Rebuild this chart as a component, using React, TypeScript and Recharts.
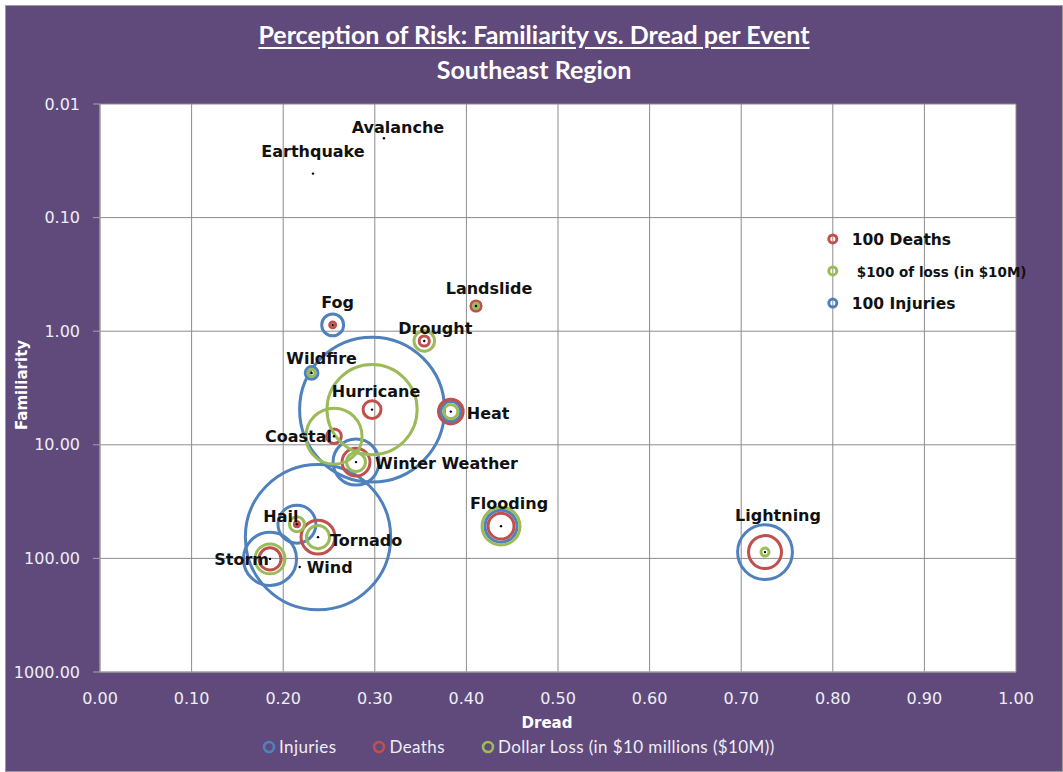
import React from 'react';
import { ScatterChart, Scatter, XAxis, YAxis, ZAxis, CartesianGrid } from 'recharts';

// Events and their position on the dread / familiarity plane
const events = ['Avalanche', 'Earthquake', 'Landslide', 'Fog', 'Drought', 'Wildfire', 'Hurricane', 'Heat', 'Coastal', 'Winter Weather', 'Flooding', 'Lightning', 'Hail', 'Tornado', 'Storm', 'Wind'];
const dread = [0.310, 0.2325, 0.4105, 0.254, 0.354, 0.231, 0.297, 0.383, 0.2555, 0.2795, 0.4378, 0.726, 0.215, 0.238, 0.1856, 0.218];
const familiarity = [0.020, 0.041, 0.60, 0.88, 1.22, 2.33, 4.9, 5.1, 8.4, 14.2, 52, 88, 50, 65, 101, 119];

// Bubble values (area proportional to value)
const injuries = [0, 0, 0, 750, 0, 250, 32800, 620, 0, 3300, 1600, 4700, 2250, 33000, 4400, 0];
const deaths = [0, 0, 160, 55, 160, 0, 500, 950, 330, 1220, 1050, 1700, 40, 1800, 760, 0];
const dollarLoss = [0, 0, 40, 0, 660, 80, 12700, 310, 4900, 560, 2250, 100, 350, 830, 1400, 0];

// In-plot key bubbles
const keyLabels = ['100 Deaths', '$100 of loss (in $10M)', '100 Injuries'];
const keyDread = [0.8, 0.8, 0.8];
const keyFamiliarity = [0.154, 0.295, 0.565];
const keyValue = 100;

const xTicks = [0, 0.1, 0.2, 0.3, 0.4, 0.5, 0.6, 0.7, 0.8, 0.9, 1.0];
const yTicks = [0.01, 0.1, 1, 10, 100, 1000];

const BLUE = '#4F81BD';
const RED = '#C0504D';
const GREEN = '#9BBB59';
const PURPLE = '#604A7B';
const GRID = '#8C8C8C';
const LIGHT = '#EEEEF6';

const labelPos: Record<string, { dx: number; dy: number; anchor: 'start' | 'middle' | 'end' }> = {
  Avalanche: { dx: 14, dy: -11, anchor: 'middle' },
  Earthquake: { dx: 0, dy: -22, anchor: 'middle' },
  Landslide: { dx: 13, dy: -17, anchor: 'middle' },
  Fog: { dx: 5, dy: -22, anchor: 'middle' },
  Drought: { dx: 11, dy: -13, anchor: 'middle' },
  Wildfire: { dx: 10, dy: -14, anchor: 'middle' },
  Hurricane: { dx: 4, dy: -18, anchor: 'middle' },
  Heat: { dx: 16, dy: 2, anchor: 'start' },
  Coastal: { dx: -2, dy: 0, anchor: 'end' },
  'Winter Weather': { dx: 19, dy: 1, anchor: 'start' },
  Flooding: { dx: 8, dy: -23, anchor: 'middle' },
  Lightning: { dx: 13, dy: -37, anchor: 'middle' },
  Hail: { dx: -16, dy: -8, anchor: 'middle' },
  Tornado: { dx: 12, dy: 3, anchor: 'start' },
  Storm: { dx: -1, dy: 1, anchor: 'end' },
  Wind: { dx: 7, dy: 1, anchor: 'start' },
};

const keyLabelStyle = [
  { dx: 19, fontSize: 15.5 },
  { dx: 24, fontSize: 13.5 },
  { dx: 19, fontSize: 15.5 },
];

const buildSeries = (values: number[], keyIndex: number) => {
  const rows = events
    .map((name, i) => ({ name, x: dread[i], y: familiarity[i], z: values[i] }))
    .filter((r) => r.z > 0);
  rows.push({ name: keyLabels[keyIndex], x: keyDread[keyIndex], y: keyFamiliarity[keyIndex], z: keyValue });
  return rows;
};

const injuryData = buildSeries(injuries, 2);
const deathData = buildSeries(deaths, 0);
const lossData = buildSeries(dollarLoss, 1);
const centerData = events.map((name, i) => ({ name, x: dread[i], y: familiarity[i] }));
const keyData = keyLabels.map((name, i) => ({ name, idx: i, x: keyDread[i], y: keyFamiliarity[i] }));

const ring = (color: string) => (props: any) => {
  const { cx, cy, size } = props;
  const r = Math.sqrt(Math.max(size || 0, 0) / Math.PI);
  return <circle cx={cx} cy={cy} r={r} fill="none" stroke={color} strokeWidth={3} />;
};

const CenterDot = (props: any) => {
  const { cx, cy, payload } = props;
  const p = labelPos[payload.name];
  return (
    <g>
      <circle cx={cx} cy={cy} r={1.2} fill="#000" />
      <text
        x={cx + p.dx}
        y={cy + p.dy}
        textAnchor={p.anchor}
        dominantBaseline="central"
        fontFamily="DejaVu Sans"
        fontWeight="bold"
        fontSize={16}
        fill="#111"
      >
        {payload.name}
      </text>
    </g>
  );
};

const KeyLabel = (props: any) => {
  const { cx, cy, payload } = props;
  const s = keyLabelStyle[payload.idx];
  return (
    <text
      x={cx + s.dx}
      y={cy + 1}
      dominantBaseline="central"
      fontFamily="DejaVu Sans"
      fontWeight="bold"
      fontSize={s.fontSize}
      fill="#111"
    >
      {payload.name}
    </text>
  );
};

const legendItems = [
  { label: 'Injuries', color: BLUE },
  { label: 'Deaths', color: RED },
  { label: 'Dollar Loss (in $10 millions ($10M))', color: GREEN },
];

export default function App() {
  const W = 1058;
  const H = 767;
  return (
    <div style={{ position: 'absolute', left: 5, top: 5, width: W, height: H, background: PURPLE }}>
      <div style={{ position: 'absolute', inset: 0, border: '1px solid #9C9C9C', pointerEvents: 'none' }} />
      <div
        style={{
          position: 'absolute', top: 14, width: '100%', textAlign: 'center', color: '#fff',
          fontFamily: 'Lato', fontWeight: 'bold', fontSize: 25, lineHeight: '30px', textDecoration: 'underline',
          textUnderlineOffset: 3,
        }}
      >
        Perception of Risk: Familiarity vs. Dread per Event
      </div>
      <div
        style={{
          position: 'absolute', top: 49, width: '100%', textAlign: 'center', color: '#fff',
          fontFamily: 'Lato', fontWeight: 'bold', fontSize: 25, lineHeight: '30px',
        }}
      >
        Southeast Region
      </div>

      <ScatterChart width={W} height={H} margin={{ top: 99, right: 47, bottom: 70, left: 15 }} style={{ position: 'absolute', left: 0, top: 0 }}>
        <CartesianGrid stroke={GRID} fill="#fff" fillOpacity={1} />
        <XAxis
          type="number"
          dataKey="x"
          domain={[0, 1]}
          ticks={xTicks}
          tickFormatter={(v: number) => v.toFixed(2)}
          height={30}
          axisLine={{ stroke: '#A6A6A6' }}
          tickLine={false}
          tickSize={6}
          tickMargin={15}
          tick={{ fill: LIGHT, fontSize: 16, fontFamily: 'DejaVu Sans' }}
        />
        <YAxis
          type="number"
          dataKey="y"
          scale="log"
          domain={[0.01, 1000]}
          ticks={yTicks}
          reversed
          allowDataOverflow
          tickFormatter={(v: number) => v.toFixed(2)}
          width={80}
          axisLine={{ stroke: '#A6A6A6' }}
          tickLine={{ stroke: '#A6A6A6' }}
          tickSize={7}
          tickMargin={13}
          tick={{ fill: LIGHT, fontSize: 16, fontFamily: 'DejaVu Sans' }}
        />
        <ZAxis type="number" dataKey="z" domain={[0, 40000]} range={[0, 40000 * (Math.PI * 16) / 100]} />
        <Scatter name="Injuries" data={injuryData} shape={ring(BLUE)} isAnimationActive={false} />
        <Scatter name="Deaths" data={deathData} shape={ring(RED)} isAnimationActive={false} />
        <Scatter name="Dollar Loss" data={lossData} shape={ring(GREEN)} isAnimationActive={false} />
        <Scatter name="centers" data={centerData} shape={(p: any) => <CenterDot {...p} />} isAnimationActive={false} />
        <Scatter name="key" data={keyData} shape={(p: any) => <KeyLabel {...p} />} isAnimationActive={false} />
      </ScatterChart>

      <div
        style={{
          position: 'absolute', left: 17 - 60, top: 380 - 10, width: 120, height: 20, lineHeight: '20px',
          textAlign: 'center', color: '#fff', fontFamily: 'DejaVu Sans', fontWeight: 'bold', fontSize: 15,
          transform: 'rotate(-90deg)',
        }}
      >
        Familiarity
      </div>
      <div
        style={{
          position: 'absolute', left: 482, top: 708, width: 120, lineHeight: '20px', textAlign: 'center',
          color: '#fff', fontFamily: 'DejaVu Sans', fontWeight: 'bold', fontSize: 15,
        }}
      >
        Dread
      </div>
      <div
        style={{
          position: 'absolute', left: 257, top: 730, display: 'flex', gap: 36, alignItems: 'center',
          color: LIGHT, fontFamily: 'Lato', fontSize: 17, lineHeight: '24px', letterSpacing: 0.4,
        }}
      >
        {legendItems.map((it) => (
          <div key={it.label} style={{ display: 'flex', alignItems: 'center', gap: 3 }}>
            <svg width={14} height={14}>
              <circle cx={7} cy={7} r={5} fill="none" stroke={it.color} strokeWidth={2.6} />
            </svg>
            <span>{it.label}</span>
          </div>
        ))}
      </div>
    </div>
  );
}
